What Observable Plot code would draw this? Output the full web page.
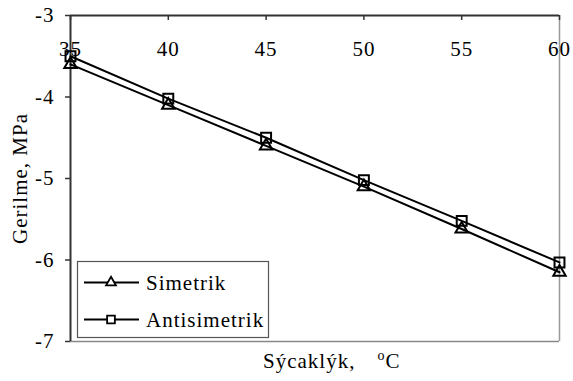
<!DOCTYPE html>
<html>
<head>
<meta charset="utf-8">
<script src="https://cdn.jsdelivr.net/npm/d3@7"></script>
<script src="https://cdn.jsdelivr.net/npm/@observablehq/plot@0.6"></script>
<style>
  body { margin: 0; background: #fff; }
  #chart svg, #chart svg text, #chart svg tspan {
    font-family: "Liberation Serif", "Times New Roman", serif !important;
    letter-spacing: 1px;
  }
</style>
</head>
<body>
<div id="chart"></div>
<script>
// Temperature (°C) and stress (MPa) for the two loading cases
const temps = [35, 40, 45, 50, 55, 60];
const simetrik = [-3.6, -4.1, -4.6, -5.1, -5.62, -6.15];
const antisimetrik = [-3.5, -4.02, -4.5, -5.02, -5.52, -6.03];
const seriesNames = ["Simetrik", "Antisimetrik"];
const xTicks = [35, 40, 45, 50, 55, 60];
const yTicks = [-3, -4, -5, -6, -7];

const rows = temps.flatMap((t, i) => [
  {t, v: simetrik[i], s: seriesNames[0]},
  {t, v: antisimetrik[i], s: seriesNames[1]}
]);

const font = "Liberation Serif";

const chart = Plot.plot({
  width: 573,
  height: 381,
  marginLeft: 70,
  marginRight: 14,
  marginTop: 15,
  marginBottom: 40,
  style: {fontSize: "21px", color: "#000", background: "#fff"},
  x: {domain: [35, 60]},
  y: {domain: [-7, -3]},
  marks: [
    // plot-area frame
    Plot.ruleX([60], {stroke: "#999", strokeWidth: 1.5}),
    Plot.ruleY([-7], {stroke: "#888", strokeWidth: 1.5}),
    Plot.ruleY([-3], {stroke: "#333", strokeWidth: 2}),
    Plot.ruleX([35], {stroke: "#333", strokeWidth: 2}),
    // y axis on the left, ticks outward
    Plot.axisY({
      ticks: yTicks, tickSize: 5, tickPadding: 11,
      tickFormat: d => String(d), fontSize: 21, stroke: "#333", strokeWidth: 1.5,
      label: "Gerilme, MPa", labelAnchor: "center", labelOffset: 58, labelArrow: "none"
    }),
    // x axis along the top edge, labels sitting just inside the frame
    Plot.axisX({
      anchor: "top", ticks: xTicks, tickSize: 0, tickPadding: 0, dy: 40,
      tickFormat: d => String(d), fontSize: 21, label: null
    }),
    // short inward tick marks on the top edge
    Plot.tickX(xTicks, {x: d => d, stroke: "#333", strokeWidth: 1.5, insetBottom: 321}),
    // series
    Plot.line(rows, {x: "t", y: "v", z: "s", stroke: "#000", strokeWidth: 2}),
    Plot.dot(rows.filter(d => d.s === seriesNames[0]),
      {x: "t", y: "v", symbol: "triangle", r: 4.6, stroke: "#000", strokeWidth: 2, fill: "none"}),
    Plot.dot(rows.filter(d => d.s === seriesNames[1]),
      {x: "t", y: "v", symbol: "square", r: 5.6, stroke: "#000", strokeWidth: 2, fill: "none"})
  ]
});

const svg = d3.select(chart);

// x-axis title below the frame, with a raised degree "o"
const xt = svg.append("text")
  .attr("x", 263).attr("y", 368)
  .attr("text-anchor", "start")
  .attr("font-size", 21).attr("fill", "#000");
xt.append("tspan").text("Sýcaklýk,");
xt.append("tspan").attr("font-size", 14).attr("dx", 22).attr("dy", -8).text("o");
xt.append("tspan").attr("dy", 8).text("C");

// legend
const lg = svg.append("g").attr("font-size", 21).attr("text-anchor", "start");
lg.append("rect")
  .attr("x", 77.5).attr("y", 261.5).attr("width", 191).attr("height", 76)
  .attr("fill", "#fff").attr("stroke", "#555").attr("stroke-width", 1.2);
const legendSymbols = [d3.symbolTriangle, d3.symbolSquare];
const legendSizes = [42, 60];
seriesNames.forEach((name, i) => {
  const y = 282.5 + i * 37;
  lg.append("line").attr("x1", 84).attr("x2", 139).attr("y1", y).attr("y2", y)
    .attr("stroke", "#000").attr("stroke-width", 2);
  lg.append("path")
    .attr("d", d3.symbol(legendSymbols[i], legendSizes[i])())
    .attr("transform", `translate(111,${y})`)
    .attr("fill", "#fff").attr("stroke", "#000").attr("stroke-width", 1.8);
  lg.append("text").attr("x", 146).attr("y", y + 7).attr("fill", "#000").text(name);
});

// make every label use the serif face
svg.attr("font-family", font);
svg.selectAll("text, tspan").attr("font-family", font);

document.getElementById("chart").appendChild(chart);
</script>
</body>
</html>
